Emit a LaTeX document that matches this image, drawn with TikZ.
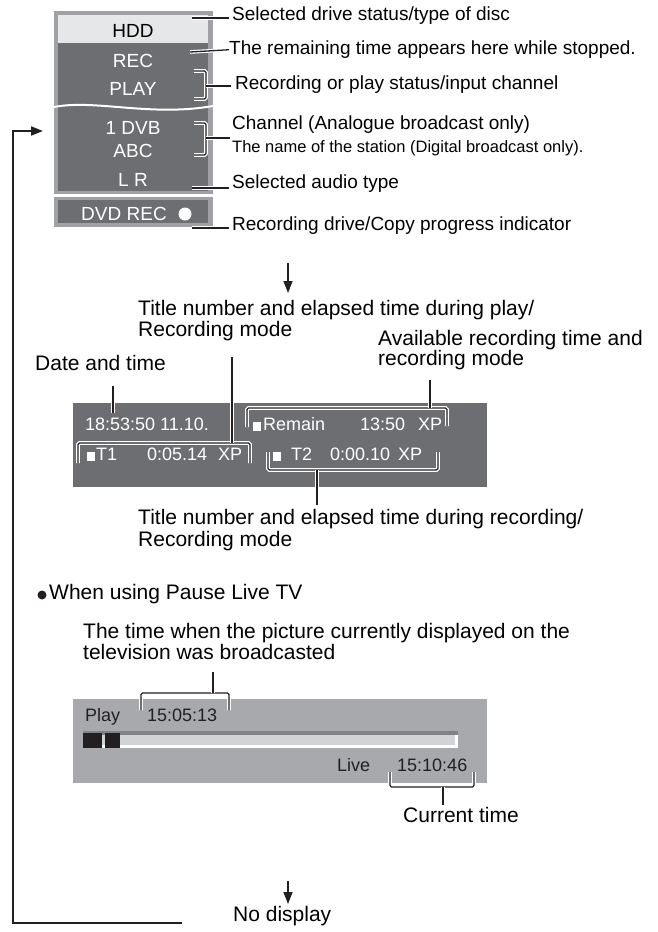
\documentclass[tikz,border=0pt]{standalone}
\usepackage{fontspec}
\setmainfont{Liberation Sans}
\usetikzlibrary{arrows.meta}
\definecolor{dk}{HTML}{6D6E71}
\definecolor{frm}{HTML}{A0A1A4}
\definecolor{hdd}{HTML}{E6E7E8}
\definecolor{lp}{HTML}{A7A9AC}
\definecolor{barc}{HTML}{D1D3D4}
\definecolor{bared}{HTML}{808285}
\definecolor{blk}{HTML}{231F20}
\begin{document}
\begin{tikzpicture}[x=1pt,y=-1pt,
  lbl/.style={anchor=mid west,inner sep=0,font=\fontsize{19}{22}\selectfont},
  big/.style={anchor=mid west,inner sep=0,font=\fontsize{21}{24}\selectfont},
  pan/.style={inner sep=0,text=white,font=\fontsize{19}{22}\selectfont},
  mid/.style={anchor=mid west,inner sep=0,text=white,font=\fontsize{18}{21}\selectfont},
  bot/.style={anchor=mid west,inner sep=0,text=blk,font=\fontsize{18}{21}\selectfont},
  lead/.style={line width=1.3pt,draw=blk,rounded corners=1.5pt,preaction={draw=white,line width=3.6pt}},
  loop/.style={line width=2pt,draw=blk},
  tip/.style={-{Triangle[length=12pt,width=9pt]}},
]
\useasboundingbox (0,0) rectangle (657,932);

% ---------- top panel ----------
\fill[frm] (54,11) rectangle (213,194);
\fill[hdd] (58,15) rectangle (208,43);
\fill[dk] (58,43) rectangle (208,191);
\draw[white,line width=2pt] (54,107) .. controls (95,99) and (150,117) .. (213,106);
\fill[frm] (54,197) rectangle (213,227);
\fill[dk] (58,200) rectangle (208,223);

\node[pan,text=black] (hdd) at (133,31) {HDD};
\node[pan] (rec) at (133,61) {REC};
\node[pan] (play) at (133,89) {PLAY};
\node[pan] (dvb) at (133,128) {1 DVB};
\node[pan] (abc) at (133,151) {ABC};
\node[pan] (lr) at (133,180) {L R};
\node[pan] (dvdrec) at (124,214) {DVD REC};
\fill[white] (185,214) circle (6.5);

% top labels
\node[lbl] (l1) at (232,18) {Selected drive status/type of disc};
\node[lbl] (l2) at (229,52) {The remaining time appears here while stopped.};
\node[lbl] (l3) at (235,87) {Recording or play status/input channel};
\node[lbl] (l4) at (232,127) {Channel (Analogue broadcast only)};
\node[anchor=mid west,inner sep=0,font=\fontsize{16.5}{19}\selectfont] (l4b) at (232,150) {The name of the station (Digital broadcast only).};
\node[lbl] (l5) at (232,186) {Selected audio type};
\node[lbl] (l6) at (232,228) {Recording drive/Copy progress indicator};

\coordinate (c1) at (192,18);
\coordinate (c2) at (190,52);
\coordinate (c5) at (192,188);
\coordinate (c6) at (192,228);
\draw[lead] (c1) -- (229,18);
\draw[lead] (c2) -- (l2.west);
\draw[lead] (194,71) -- (206,71) -- (206,99) -- (194,99);
\draw[lead] (206,86) -- (231,86);
\draw[lead] (194,123) -- (206,123) -- (206,155) -- (194,155);
\draw[lead] (206,138) -- (230,138);
\draw[lead] (c5) -- (229,188);
\draw[lead] (c6) -- (229,228);

% loop arrow
\coordinate (lt) at (13,131);
\coordinate (lb) at (13,923);
\coordinate (le) at (182,923);
\coordinate (la) at (43,131);
\draw[loop,tip] (le) -- (lb) -- (lt) -- (la);

% down arrow 1
\coordinate (d1a) at (288,263);
\coordinate (d1b) at (288,293);
\draw[line width=1.6pt,draw=blk,tip] (d1a) -- (d1b);

% ---------- middle section ----------
\node[big] (t1a) at (138,313) {Title number and elapsed time during play/};
\node[big] (t1b) at (138,334) {Recording mode};
\node[big] (av1) at (378,343) {Available recording time and};
\node[big] (av2) at (378,363) {recording mode};
\node[big] (dt) at (35,368) {Date and time};

\fill[dk] (73,403) rectangle (487,487);
\node[mid] (date) at (85,428) {18:53:50 11.10.};
\fill[white] (87,452) rectangle (95,461);
\node[mid] (t1) at (96,458) {T1};
\node[mid] (t1t) at (147,458) {0:05.14};
\node[mid] (t1x) at (218,458) {XP};
\fill[white] (253,422) rectangle (261,431);
\node[mid] (rem) at (263,428) {Remain};
\node[mid] (remt) at (360,428) {13:50};
\node[mid] (remx) at (418,428) {XP};
\fill[white] (273,452) rectangle (281,461);
\node[mid] (t2) at (291,458) {T2};
\node[mid] (t2t) at (330,458) {0:00.10};
\node[mid] (t2x) at (398,458) {XP};

\draw[lead] (113,386) -- (113,413);
\draw[lead] (78,463) -- (78,443) -- (250,443) -- (250,463);
\draw[lead] (232,443) -- (232,357);
\draw[lead] (247,427) -- (247,408) -- (447,408) -- (447,426);
\draw[lead] (430,408) -- (430,380);
\draw[lead] (268,452) -- (268,470) -- (438,470) -- (438,452);
\draw[lead] (317,470) -- (317,505);

\node[big] (t2a) at (138,522) {Title number and elapsed time during recording/};
\node[big] (t2b) at (138,544) {Recording mode};

% ---------- pause live TV ----------
\fill[blk] (42,595) circle (4.5);
\node[big] (when) at (49,597) {When using Pause Live TV};
\node[big] (tw1) at (83,636) {The time when the picture currently displayed on the};
\node[big] (tw2) at (83,657) {television was broadcasted};

\fill[lp] (73,699) rectangle (487,783);
\fill[bared] (83,731) rectangle (458,735);
\fill[barc] (83,735) rectangle (455,745);
\fill[white] (83,745) rectangle (458,748);
\fill[white] (455,735) rectangle (458,748);
\fill[blk] (83,733) rectangle (102,748);
\fill[blk] (105,733) rectangle (120,748);
\node[bot] (pl) at (85,719) {Play};
\node[bot] (plt) at (147,719) {15:05:13};
\node[bot] (lv) at (337,769) {Live};
\node[bot] (lvt) at (397,769) {15:10:46};

\draw[lead] (141,710) -- (141,693) -- (229,693) -- (229,710);
\draw[lead] (213,693) -- (213,672);
\draw[lead] (390,772) -- (390,787) -- (474,787) -- (474,772);
\draw[lead] (443,787) -- (443,805);
\node[big] (cur) at (403,820) {Current time};

% down arrow 2
\coordinate (d2a) at (288,881);
\coordinate (d2b) at (288,904);
\draw[line width=1.6pt,draw=blk,tip] (d2a) -- (d2b);
\node[big] (nod) at (233,919) {No display};
\end{tikzpicture}
\end{document}
